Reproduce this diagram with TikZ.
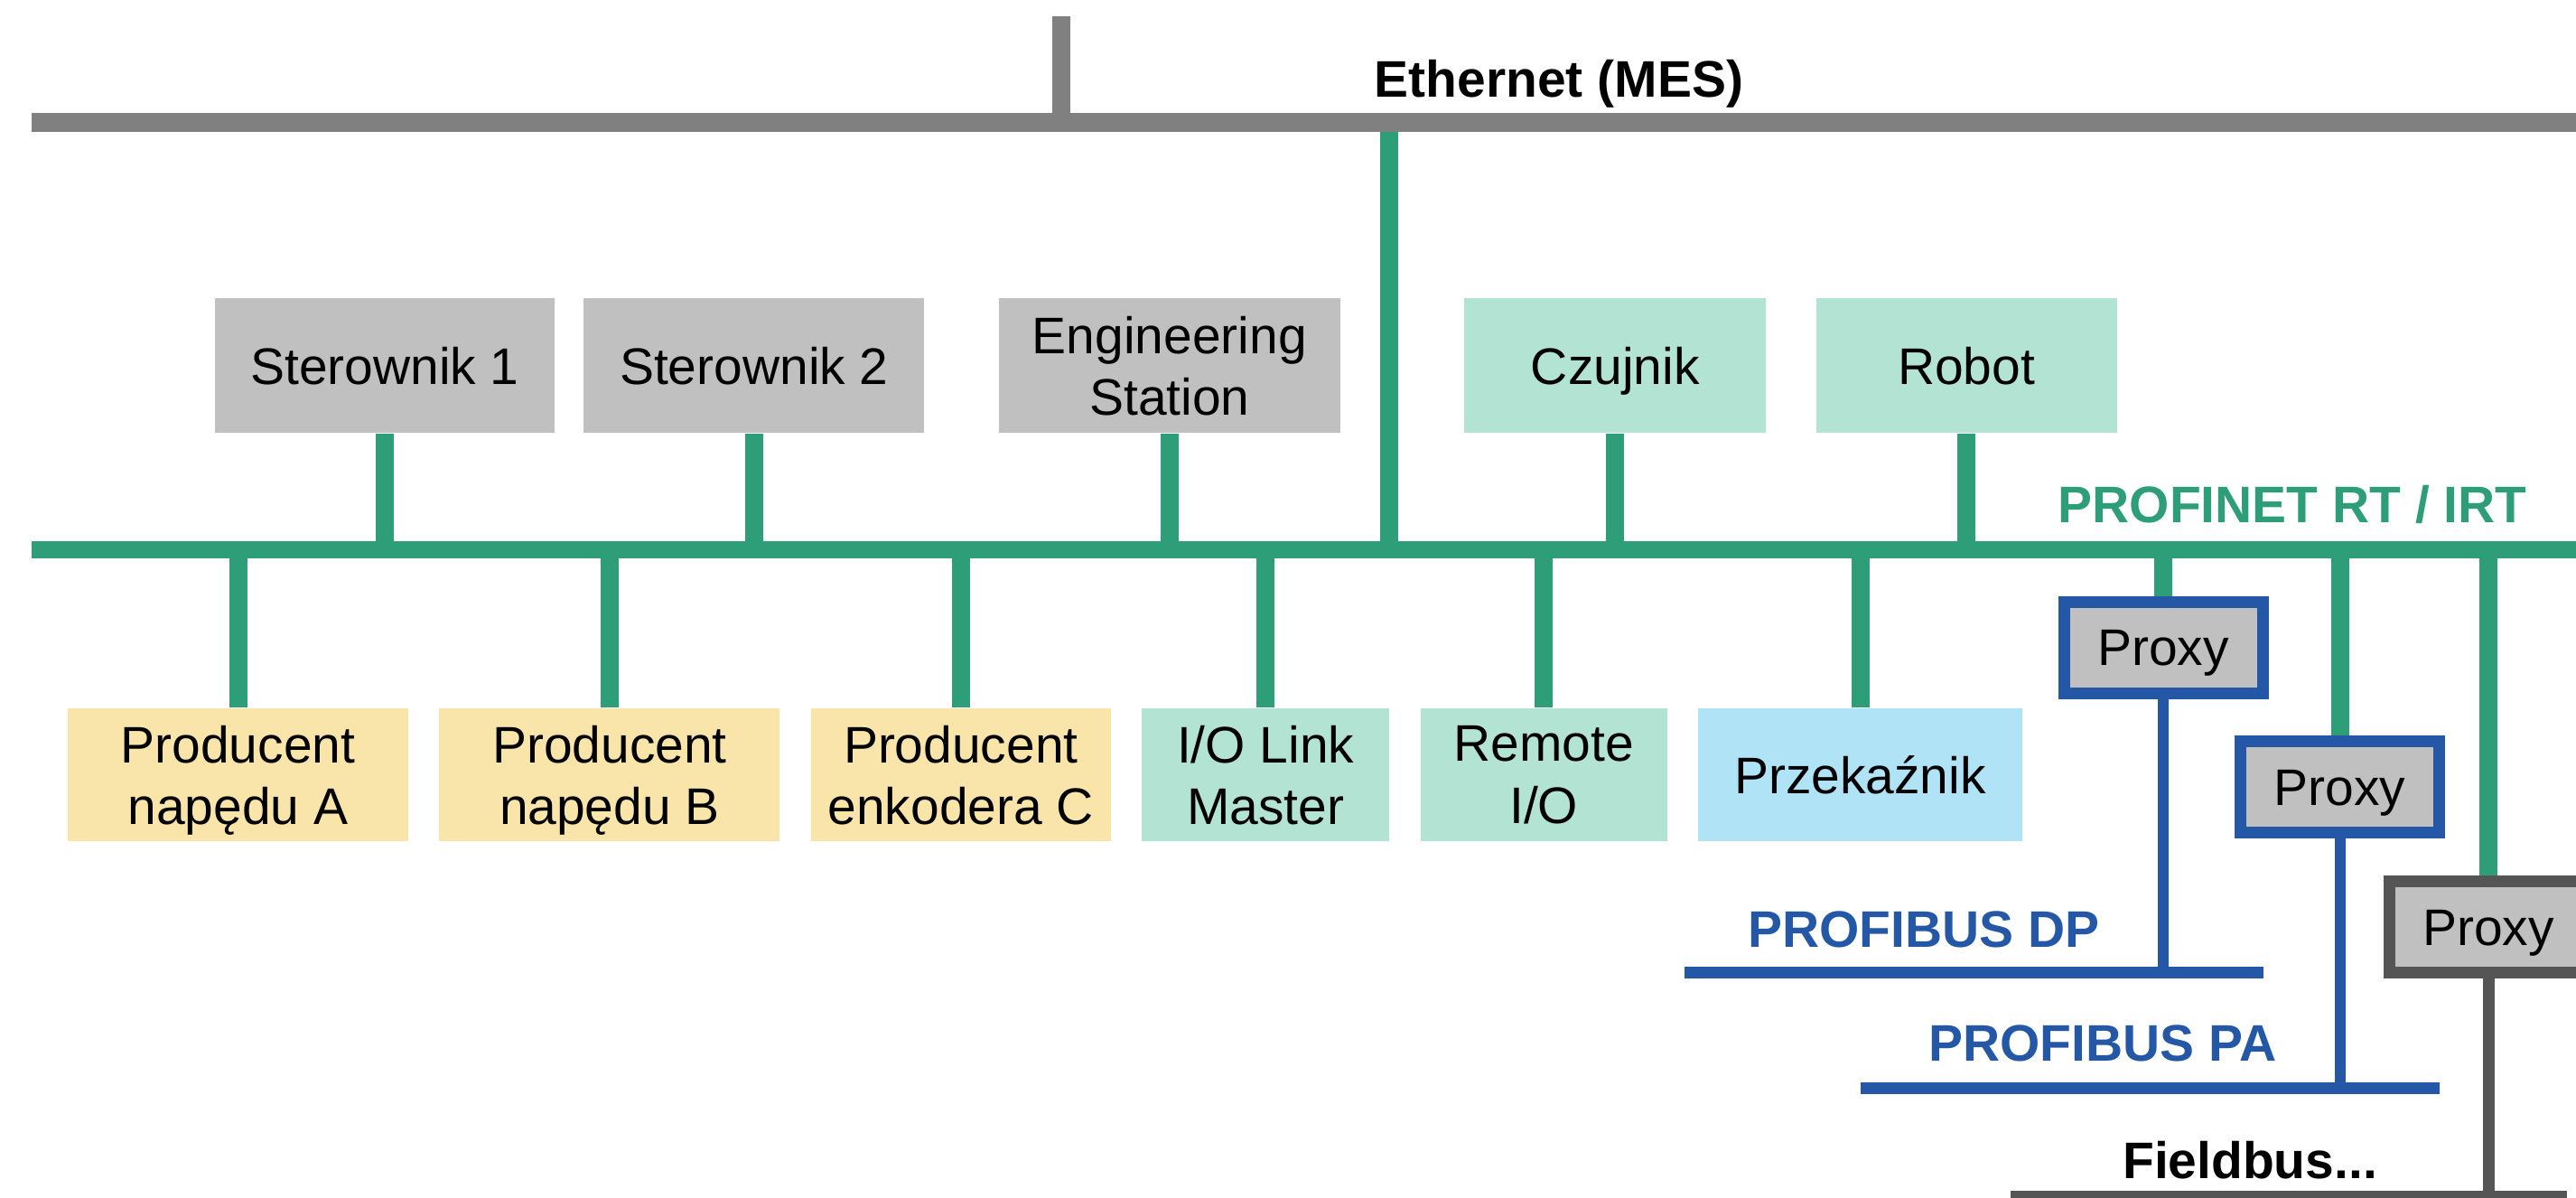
\documentclass[tikz,border=0pt]{standalone}
\usepackage{fontspec}
\setmainfont{Liberation Sans}
\usepackage{tikz}
\usetikzlibrary{positioning,calc}

\definecolor{busgray}{HTML}{808080}
\definecolor{pngreen}{HTML}{2E9E78}
\definecolor{pbblue}{HTML}{2458A6}
\definecolor{boxgray}{HTML}{C0C0C0}
\definecolor{boxmint}{HTML}{B3E3D3}
\definecolor{boxyellow}{HTML}{F9E4A9}
\definecolor{boxblue}{HTML}{B0E3F5}
\definecolor{proxygray}{HTML}{555555}

\tikzset{
  txt/.style={font=\fontsize{16.2}{19.4}\selectfont},
  dev/.style={txt, inner sep=0pt, align=center, text depth=0pt},
  topdev/.style={dev, minimum height=1.49cm},
  botdev/.style={dev, minimum height=1.47cm, minimum width=#1},
  proxy/.style={dev, fill=boxgray, line width=0.13cm, minimum width=2.2cm, minimum height=1.01cm},
  buslabel/.style={font=\bfseries\fontsize{16.2}{19.4}\selectfont, inner sep=0pt, anchor=base},
  ethbus/.style={busgray, line width=0.21cm},
  pnbus/.style={pngreen, line width=0.19cm},
  pnline/.style={pngreen, line width=0.2cm},
  pbbus/.style={pbblue, line width=0.13cm},
  pbline/.style={pbblue, line width=0.12cm},
  fbline/.style={proxygray, line width=0.13cm}
}

\begin{document}
\begin{tikzpicture}
\useasboundingbox (0,0) rectangle (28.52,13.26);
\coordinate (ethL) at (0.35,11.90);
\coordinate (ethR) at (28.52,11.90);
\coordinate (pnL) at (0.35,7.17);
\coordinate (pnR) at (28.52,7.17);
\coordinate (up) at (11.75,13.08);
\coordinate (riser) at (15.38,11.90);
\draw[busgray, line width=0.2cm] (up) -- (up |- ethL);
\draw[pnline] (riser) -- (riser |- pnL);
\draw[ethbus] (ethL) -- (ethR);
\draw[pnbus] (pnL) -- (pnR);
\node[buslabel] (ethlab) at (17.26,12.18) {Ethernet (MES)};
\node[buslabel, pngreen] (pnlab) at (25.38,7.47) {PROFINET RT / IRT};

\node[topdev, fill=boxgray, minimum width=3.76cm] (s1) at (4.26,9.215) {Sterownik 1};
\node[topdev, fill=boxgray, minimum width=3.77cm, right=0.31cm of s1] (s2) {Sterownik 2};
\node[topdev, fill=boxgray, minimum width=3.78cm, right=0.81cm of s2] (es) {Engineering\\Station};
\node[topdev, fill=boxmint, minimum width=3.34cm, right=1.36cm of es] (cz) {Czujnik};
\node[topdev, fill=boxmint, minimum width=3.33cm, right=0.54cm of cz] (rb) {Robot};

\begin{scope}[node distance=0.33cm]
\node[botdev=3.77cm, fill=boxyellow] (pa) at (2.635,4.685) {Producent\\napędu A};
\node[botdev=3.77cm, fill=boxyellow, right=of pa] (pb) {Producent\\napędu B};
\node[botdev=3.32cm, fill=boxyellow, right=of pb] (ec) {Producent\\enkodera C};
\node[botdev=2.74cm, fill=boxmint, right=of ec] (io) {I/O Link\\Master};
\node[botdev=2.73cm, fill=boxmint, right=of io] (rio) {Remote\\I/O};
\node[botdev=3.59cm, fill=boxblue, right=of rio] (pk) {Przekaźnik};
\end{scope}

\node[proxy, draw=pbblue] (px1) at (23.95,6.09) {Proxy};
\node[proxy, draw=pbblue] (px2) at (25.905,4.545) {Proxy};
\node[proxy, draw=proxygray] (px3) at (27.55,2.995) {Proxy};

\foreach \n in {s1,s2,es,cz,rb}
  \draw[pnline] (\n.south) -- (\n.south |- pnL);
\foreach \n in {pa,pb,ec,io,rio,pk,px1,px2,px3}
  \draw[pnline] (\n.north) -- (\n.north |- pnL);

\coordinate (dpL) at (18.65,2.49);
\coordinate (dpR) at (25.06,2.49);
\coordinate (paL) at (20.60,1.21);
\coordinate (paR) at (27.01,1.21);
\coordinate (fbL) at (22.26,0.01);
\coordinate (fbR) at (28.42,0.01);
\draw[pbbus] (dpL) -- (dpR);
\draw[pbbus] (paL) -- (paR);
\draw[fbline] (fbL) -- (fbR);
\draw[pbline] (px1.south) -- (px1.south |- dpL);
\draw[pbline] (px2.south) -- (px2.south |- paL);
\draw[fbline] (px3.south) -- (px3.south |- fbL);
\node[buslabel, pbblue] (dplab) at (21.30,2.77) {PROFIBUS DP};
\node[buslabel, pbblue] (palab) at (23.28,1.51) {PROFIBUS PA};
\node[buslabel] (fblab) at (24.91,0.21) {Fieldbus...};
\end{tikzpicture}
\end{document}
